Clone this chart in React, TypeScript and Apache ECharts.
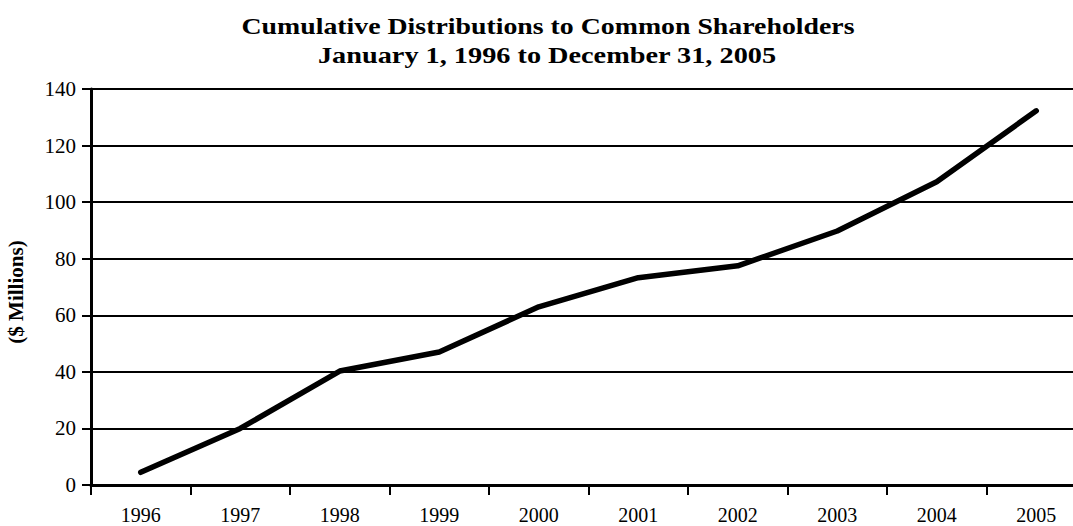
import React, { useEffect, useRef } from "react";
import * as echarts from "echarts";

const years = ["1996", "1997", "1998", "1999", "2000", "2001", "2002", "2003", "2004", "2005"];
const cumulative = [4.5, 20, 40.3, 47, 63, 73.3, 77.5, 89.8, 107.2, 132.3];
const titleLine1 = "Cumulative Distributions to Common Shareholders";
const titleLine2 = "January 1, 1996 to December 31, 2005";
const yAxisName = "($ Millions)";
const yMin = 0;
const yMax = 140;
const yStep = 20;

const FONT = "'Liberation Serif', 'Times New Roman', serif";

export default function App() {
  const ref = useRef<HTMLDivElement>(null);
  useEffect(() => {
    if (!ref.current) return;
    const chart = echarts.init(ref.current, null, { renderer: "svg" });
    const titleStyle = {
      fontFamily: FONT,
      fontWeight: "bold",
      fontSize: 23,
      fill: "#000",
      textAlign: "center",
      textVerticalAlign: "middle",
    };
    chart.setOption({
      animation: false,
      backgroundColor: "#ffffff",
      graphic: [
        { type: "text", x: 548, y: 26, scaleX: 1.21, scaleY: 1, style: { ...titleStyle, text: titleLine1 } },
        { type: "text", x: 547, y: 55, scaleX: 1.23, scaleY: 1, style: { ...titleStyle, text: titleLine2 } },
        {
          type: "text",
          x: 16,
          y: 292,
          rotation: Math.PI / 2,
          style: {
            text: yAxisName,
            fontFamily: FONT,
            fontWeight: "bold",
            fontSize: 21,
            fill: "#000",
            textAlign: "center",
            textVerticalAlign: "middle",
          },
        },
      ],
      grid: { left: 91, right: -13, top: 89, bottom: 41, containLabel: false, outerBoundsMode: "none" },
      xAxis: {
        type: "category",
        data: years,
        boundaryGap: true,
        axisLine: { show: true, lineStyle: { color: "#000", width: 3 } },
        axisTick: { show: true, length: 10, lineStyle: { color: "#000", width: 2 }, alignWithLabel: false },
        axisLabel: { color: "#000", fontFamily: FONT, fontSize: 20, lineHeight: 20, margin: 20 },
        splitLine: { show: false },
      },
      yAxis: {
        type: "value",
        min: yMin,
        max: yMax,
        interval: yStep,
        axisLine: { show: true, lineStyle: { color: "#000", width: 3 } },
        axisTick: { show: true, length: 9, lineStyle: { color: "#000", width: 2 } },
        axisLabel: { color: "#000", fontFamily: FONT, fontSize: 21, margin: 15 },
        splitLine: { show: true, lineStyle: { color: "#000", width: 2 } },
      },
      series: [
        {
          type: "line",
          data: cumulative,
          symbol: "none",
          lineStyle: { color: "#000", width: 5.5, cap: "round", join: "round" },
        },
      ],
    });
    return () => chart.dispose();
  }, []);
  return (
    <div
      ref={ref}
      style={{ position: "fixed", left: 0, top: 0, width: 1073, height: 526, background: "#fff" }}
    />
  );
}
